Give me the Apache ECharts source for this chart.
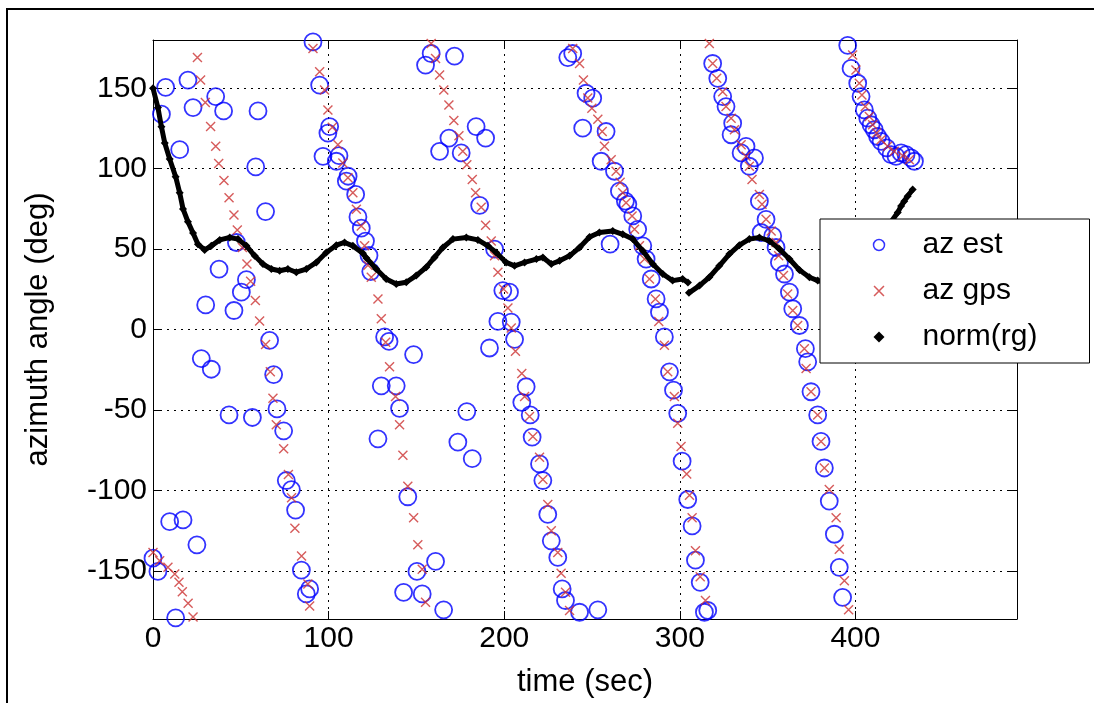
<!DOCTYPE html>
<html>
<head>
<meta charset="utf-8">
<script src="https://cdn.jsdelivr.net/npm/echarts@6/dist/echarts.min.js"></script>
<style>
  html, body { margin: 0; background: #fff; }
  #chart { width: 1094px; height: 703px; }
</style>
</head>
<body>
<div id="chart"></div>
<script>
// azimuth estimate, [time sec, deg]
const azEst = [
  [0, -142.2], [2.8, -150.4], [4.8, 133.9], [7.2, 150.6], [9.5, -119.5], [12.9, -179.3], [15.2, 111.8],
  [17.1, -118.4], [19.9, 155.1], [22.8, 138], [25, -133.9], [27.5, -18.1], [30, 15.3], [33.2, -24.7],
  [35.7, 144.8], [37.6, 37.6], [40.2, 135.9], [43.3, -53.1], [46.1, 11.8], [47.5, 54.1], [50.3, 23.2],
  [53.2, 31], [56.6, -54.7], [58.5, 101.1], [59.8, 135.9], [64.1, 73.3], [66.4, -6.7], [68.7, -28],
  [70.6, -49.4], [74.4, -63], [75.9, -93.9], [78.8, -99.5], [81.2, -112.3], [84.5, -149.6], [87.3, -164.4],
  [89.2, -161.3], [91.1, 178.8], [94.9, 152], [96.8, 107.7], [99.6, 122.1], [100.6, 126.2], [104.4, 104.6],
  [105.9, 108.1], [110.1, 92.2], [111.1, 95.3], [115.4, 84], [116.7, 70], [118.6, 63], [121, 55], [123, 46],
  [124, 36], [128.1, -68], [130, -35], [131.9, -4.6], [134.4, -7.4], [138.5, -35], [140.4, -49],
  [142.7, -163.4], [145.1, -104], [148.4, -15.6], [150.3, -150.4], [153.3, -164.4], [155.2, 164.4],
  [158.4, 171.6], [160.9, -144.2], [163.2, 110.8], [165.5, -174.3], [168.5, 119], [171.7, 170], [173.6, -70],
  [175.5, 109.8], [178.7, -51], [181.8, -80.3], [184, 126.2], [186, 77.2], [189.4, 119], [191.6, -11.5],
  [194.5, 50], [196.4, 5], [199.2, 24.2], [203, 23.2], [204, 4.6], [205.9, -6.1], [210, -45.3], [212.5, -35.6],
  [214.8, -53.1], [215.9, -66.9], [220.1, -83.6], [222, -93.9], [224.8, -115], [226.8, -131.4],
  [230.5, -141.7], [233, -161.3], [234.9, -168.5], [236.2, 169.1], [239, 171.6], [242.9, -175.8],
  [244.7, 125.2], [246.6, 146.9], [250.4, 143.8], [253.3, -174.3], [255.2, 104.6], [258, 123.1],
  [260.3, 53.1], [262.8, 98.4], [265.6, 86], [269, 79.8], [270.4, 77.8], [273.2, 70.6], [276, 62.3],
  [278.9, 52], [280.8, 43.8], [283.7, 31.4], [286.5, 19], [288.4, 10.8], [291.2, -4.6], [294.1, -26.3],
  [296.4, -37.7], [298.8, -52.1], [301.3, -81.9], [304.5, -105.7], [307, -122.1], [308.9, -143.4],
  [311.6, -157.2], [314, -175.8], [315.9, -174.7], [318.7, 165.4], [321.6, 156.2], [324.4, 144.8],
  [326.3, 138.6], [329.2, 121.1], [330.1, 128.3], [334.9, 109.8], [337.7, 113.9], [339.6, 101.5],
  [342.5, 106.7], [345.3, 79.8], [346.3, 60.3], [349.1, 68.5], [352.9, 58.2], [354.8, 51], [356.7, 41.7],
  [359.6, 34.5], [362.4, 23.2], [364.3, 12.9], [368.1, 2.5], [371.5, -11.9], [372.8, -20.1], [374.7, -38.7],
  [378.5, -53.1], [380.4, -69.6], [382.3, -86.1], [385.1, -106.7], [388, -127.3], [390.8, -147.9],
  [392.7, -166.5], [395.6, 176.7], [397.5, 162.3], [401.3, 153.1], [403.2, 144.8], [405.1, 136.5],
  [407, 131.4], [408.9, 127.3], [410.7, 124.2], [412.6, 120], [414.6, 117], [417.8, 112.9], [420.3, 108.7],
  [423.1, 107.7], [426, 109.8], [428.8, 108.7], [431.7, 106.7], [433.6, 104.6]
]

// azimuth from gps, [time sec, deg]
const azGps = [
  [0, -138.7], [3.8, -143.8], [8.5, -147.9], [12.4, -152], [14.8, -157.2], [16.7, -163], [20, -170.2],
  [22.8, -178.8],
  [25.3, 169.1], [27.1, 155.1], [29.8, 141.1], [32.8, 126.2], [35.7, 113.9], [37.4, 103.2], [40.4, 92.6],
  [43.3, 81.9], [46.1, 71.2], [48, 61.9], [50.9, 51], [53.5, 40.7], [55.6, 30], [58.3, 18], [60.7, 5.3],
  [64.1, -9.4], [66.8, -26.3], [68.3, -42.8], [70.2, -59.3], [74.4, -74.1], [77.1, -90.2], [78.9, -104.6],
  [80.8, -123.6], [84.6, -140.9], [88.2, -158.3], [89.2, -171.9],
  [91.1, 174.7], [94.9, 160.2], [97.7, 148.9], [99.6, 136.5], [102.1, 125.8], [105.3, 114.9], [108.1, 103.6],
  [111, 94.3], [113.8, 85], [115.8, 74.7], [118.6, 64.4], [120.5, 52], [122.4, 40], [124.3, 32.5],
  [128.1, 19], [130, 6.7], [132.5, -8], [134.7, -23.2], [138.1, -41.7], [140.4, -59.3], [142.3, -78.2],
  [145.1, -97.4], [148.4, -117], [150.8, -133.9], [153.3, -149], [155.2, -169.6],
  [158.4, 177.8], [160.9, 168.5], [163.2, 158.2], [165.6, 148.9], [168.5, 139.6], [171.3, 129.9],
  [174.2, 120.5], [176.4, 110.8], [178.7, 102.5], [181.8, 93.3], [183.7, 85], [186.9, 76], [189.4, 64.8],
  [192.6, 55.1], [194.5, 45.8], [196.4, 35.6], [199.6, 25.2], [202.1, 13.3], [204, 1], [206.4, -13.5],
  [210, -27.3], [211.6, -41.7], [214.4, -54.1], [216.3, -66.5], [220.1, -79.5], [222, -93.3],
  [224.8, -108.8], [226.8, -125.2], [230.5, -138.7], [232.4, -151.6], [234.9, -163.4], [237.2, -174.7],
  [239, 174.7], [242.9, 165.4], [245.1, 155.1], [247.6, 144], [249.9, 137.6], [253.3, 130.8], [255.8, 123.1],
  [257.1, 113.9], [260.9, 105.6], [263.7, 98.4], [266, 91.6], [267.5, 85], [269.4, 78.8], [272.8, 70.6],
  [274.2, 62.3], [277, 52], [279.9, 43.8], [282.7, 31.4], [286.1, 19], [288, 5], [291.2, -9.8],
  [293.1, -26.3], [296.9, -41.7], [298.8, -58.3], [300.7, -72.7], [303.9, -89.8], [305.5, -103], [307, -117],
  [308.9, -137.6], [311.6, -153.7], [314.6, -168.5],
  [316.8, 177.8], [318.7, 165.4], [321, 156.2], [324.4, 147.9], [326.3, 138.6], [329.2, 131.4],
  [331.1, 124.2], [334.9, 114.9], [337.7, 107.7], [339.6, 101.5], [341.1, 93.3], [345.3, 84], [346.8, 77.8],
  [349.1, 68.5], [352, 61.3], [354.8, 54.1], [356.3, 45.8], [359, 33.5], [361.4, 22.1], [364.3, 11.8],
  [367.1, 2.5], [370.9, -11.9], [371.9, -24.2], [374.7, -38.7], [378.5, -53.1], [380.4, -69.6],
  [382.3, -86.1], [385.1, -99.5], [389, -117], [390.8, -136.6], [393.7, -156.2], [396.1, -174.3],
  [398.4, 170.6], [400.3, 161.3], [402.2, 153.1], [403.7, 145.8], [405.6, 138.6], [407.9, 132.4],
  [409.8, 127.3], [412.1, 122.1], [414.6, 118], [418.3, 113.9], [422.1, 110.8], [426.9, 108.1], [430.7, 105.6]
]

// norm(rg), [time sec, value]; null marks the break near 304 s
const normRg = [
  [0, 150], [2.8, 138], [4.8, 126], [6.7, 116], [9.5, 106], [12.9, 95], [15.2, 85], [17.1, 75], [19.9, 67],
  [22.8, 60], [25.6, 53], [29.4, 49.5], [33.2, 52], [38, 55.7], [43.7, 57.2], [48.4, 56.2], [53.2, 52],
  [57.9, 45.8], [62.6, 40.7], [67.4, 37.6], [72.1, 36.5], [76.8, 37.6], [81.6, 35.6], [87.3, 37.6],
  [93, 41.7], [98.7, 47.9], [104.4, 52.4], [109.1, 54.1], [113.8, 52], [119.5, 47.4], [121.5, 44.5],
  [127.1, 37.6], [132.8, 31.4], [138.5, 28.3], [144.2, 29.4], [149.9, 33.5], [155.6, 38.7], [160.3, 44.8],
  [165.1, 51], [170.8, 56.2], [178.4, 57.2], [185, 55.7], [190.7, 52], [195.4, 47.9], [201.1, 41.7],
  [205.9, 39.6], [211.6, 41.7], [218.3, 43.8], [222, 44.8], [226.8, 40.7], [231.5, 42.7], [237.2, 45.8],
  [242.9, 51], [248.6, 57.5], [254.2, 60.3], [261.8, 61.3], [267.5, 59.2], [273.2, 56.2], [278.9, 48.9],
  [284.6, 40.7], [290.3, 34.5], [295.9, 30.4], [301.6, 31.4], [304.6, 29.2], [304.8, null],
  [305.2, 22.8], [311.2, 27.3], [316.8, 32.5], [322.5, 39.6], [328.2, 46.9], [333.9, 52.4], [339.6, 56.2],
  [345.3, 57.2], [351, 55.1], [356.7, 50], [362.4, 43.8], [368.1, 37], [373.8, 32.5], [378.5, 30.4],
  [384, 29], [390, 31], [396, 36], [402, 42], [408, 50], [414, 58], [419, 65],
  [424.1, 72.7], [426, 76.8], [427.8, 79.8], [429.7, 82.9], [432.6, 87.1]
]

const xMax = 492
const yMin = -180
const yMax = 180

const font = 'Arial, "Liberation Sans", sans-serif'
// little "x" marker drawn as two thin bars
const crossPath = 'path://M0,1L1,0L10,9L9,10ZM9,0L10,1L1,10L0,9Z'

const grid = { left: 153, right: 77, top: 40, bottom: 81 }

const axisLine = { show: true, onZero: false, lineStyle: { color: '#000', width: 1 } }
const axisTick = { show: true, inside: true, length: 8, lineStyle: { color: '#000' } }

const boxAxis = {
  axisLine,
  axisTick,
  axisLabel: { show: false },
  splitLine: { show: false }
}

const gridLine = { show: true, lineStyle: { color: '#000', width: 1, type: [2, 5] } }

const option = {
  animation: false,
  backgroundColor: '#fff',
  grid,
  graphic: [{
    type: 'rect',
    shape: { x: 7, y: 9, width: 1100, height: 710 },
    style: { fill: 'none', stroke: '#000', lineWidth: 2 },
    silent: true
  }],
  legend: {
    orient: 'vertical',
    left: 820,
    top: 219,
    padding: [11, 52, 11, 51],
    itemWidth: 11,
    itemHeight: 11,
    itemGap: 16,
    backgroundColor: '#fff',
    borderColor: '#000',
    borderWidth: 1,
    borderRadius: 0,
    textStyle: { fontSize: 30, fontFamily: font, color: '#000', lineHeight: 26, padding: [0, 0, 0, 33] },
    data: [
      { name: 'az est', icon: 'circle', itemStyle: { color: 'none', borderColor: '#0000ff', borderWidth: 1.5 } },
      { name: 'az gps', icon: crossPath },
      { name: 'norm(rg)', icon: 'diamond' }
    ]
  },
  xAxis: [{
    type: 'value',
    min: 0,
    max: xMax,
    interval: 100,
    name: 'time (sec)',
    nameLocation: 'middle',
    nameGap: 48,
    nameTextStyle: { fontSize: 31, fontFamily: font, color: '#000' },
    axisLine,
    axisTick,
    axisLabel: { fontSize: 30, fontFamily: font, color: '#000', margin: 5, showMaxLabel: false },
    splitLine: gridLine
  }, {
    type: 'value', position: 'top', min: 0, max: xMax, interval: 100, ...boxAxis
  }],
  yAxis: [{
    type: 'value',
    min: yMin,
    max: yMax,
    splitNumber: 7,
    name: 'azimuth angle (deg)',
    nameLocation: 'middle',
    nameGap: 99,
    nameTextStyle: { fontSize: 31, fontFamily: font, color: '#000' },
    axisLine,
    axisTick,
    axisLabel: { fontSize: 30, fontFamily: font, color: '#000', margin: 6, showMinLabel: false, showMaxLabel: false },
    splitLine: gridLine
  }, {
    type: 'value', position: 'right', min: yMin, max: yMax, splitNumber: 7, ...boxAxis
  }],
  series: [
    {
      name: 'az est',
      type: 'scatter',
      data: azEst,
      symbol: 'circle',
      symbolSize: 17,
      itemStyle: { color: 'none', borderColor: '#0000ff', borderWidth: 1.8 }
    },
    {
      name: 'az gps',
      type: 'scatter',
      data: azGps,
      symbol: crossPath,
      symbolSize: 10,
      itemStyle: { color: '#cc3333' }
    },
    {
      name: 'norm(rg)',
      type: 'line',
      data: normRg,
      symbol: 'diamond',
      symbolSize: 8,
      showAllSymbol: true,
      connectNulls: false,
      itemStyle: { color: '#000' },
      lineStyle: { color: '#000', width: 5 }
    }
  ]
}

const chart = echarts.init(document.getElementById('chart'))
chart.setOption(option)
</script>
</body>
</html>
